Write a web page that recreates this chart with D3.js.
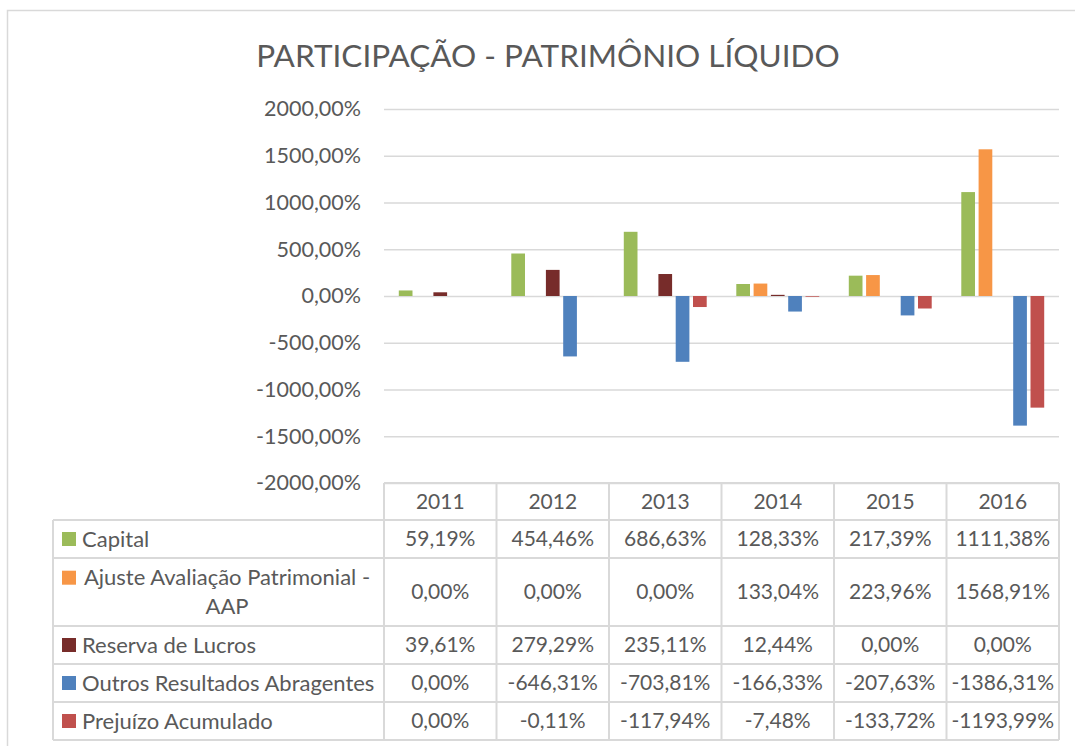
<!DOCTYPE html>
<html>
<head>
<meta charset="utf-8">
<script src="https://cdn.jsdelivr.net/npm/d3@7/dist/d3.min.js"></script>
<style>
  html, body { margin: 0; padding: 0; background: #fff; }
  svg { display: block; font-family: Lato, "Open Sans", sans-serif; }
</style>
</head>
<body>
<svg id="chart" width="1075" height="746"></svg>
<script>
// ---- data ----
const title = "PARTICIPAÇÃO - PATRIMÔNIO LÍQUIDO";
const years = ["2011", "2012", "2013", "2014", "2015", "2016"];
const seriesNames = ["Capital", "Ajuste Avaliação Patrimonial - AAP", "Reserva de Lucros", "Outros Resultados Abragentes", "Prejuízo Acumulado"];
const seriesLabelLines = [["Capital"], ["Ajuste Avaliação Patrimonial -", "AAP"], ["Reserva de Lucros"], ["Outros Resultados Abragentes"], ["Prejuízo Acumulado"]];
const capital  = [59.19, 454.46, 686.63, 128.33, 217.39, 1111.38];
const ajuste   = [0.00, 0.00, 0.00, 133.04, 223.96, 1568.91];
const reserva  = [39.61, 279.29, 235.11, 12.44, 0.00, 0.00];
const outros   = [0.00, -646.31, -703.81, -166.33, -207.63, -1386.31];
const prejuizo = [0.00, -0.11, -117.94, -7.48, -133.72, -1193.99];
const yTicks = [2000, 1500, 1000, 500, 0, -500, -1000, -1500, -2000];
const colors = ["#9BBB59", "#F79646", "#772C2A", "#4F81BD", "#C0504D"];

const seriesValues = [capital, ajuste, reserva, outros, prejuizo];
const series = seriesNames.map((name, i) => ({ name, lines: seriesLabelLines[i], color: colors[i], values: seriesValues[i] }));

// ---- layout ----
const W = 1075, H = 746;
const plotLeft = 384, plotRight = 1059, plotTop = 109, plotBottom = 483;
const tableLeft = 53;
const headerH = 37;
const rowHeights = [38, 68, 38, 38, 38];
const textColor = "#595959";
const gridColor = "#D9D9D9";
const fmt = v => v.toFixed(2).replace(".", ",") + "%";

const svg = d3.select("#chart");

// outer chart border (left/top visible)
svg.append("rect").attr("x", 7.5).attr("y", 10.5).attr("width", W + 20).attr("height", H + 20)
  .attr("fill", "#fff").attr("stroke", gridColor).attr("stroke-width", 1.5);

// title
svg.append("text").attr("x", (258 + 838) / 2).attr("y", 67)
  .attr("text-anchor", "middle").attr("fill", textColor)
  .style("font-size", "31.5px").text(title);

// scales
const x = d3.scaleBand().domain(years).range([plotLeft, plotRight]).paddingInner(0).paddingOuter(0);
const xs = d3.scaleBand().domain(seriesNames).range([0, x.bandwidth()]).paddingInner(0.208).paddingOuter(0.855);
const y = d3.scaleLinear().domain([-2000, 2000]).range([plotBottom, plotTop]);

// gridlines via axis
const yAxis = d3.axisLeft(y).tickValues(yTicks).tickSize(-(plotRight - plotLeft)).tickPadding(23).tickFormat(fmt);
const gy = svg.append("g").attr("transform", `translate(${plotLeft},0)`).call(yAxis);
gy.select(".domain").remove();
gy.selectAll(".tick line").attr("stroke", gridColor).attr("stroke-width", 1.5);
gy.selectAll(".tick text").attr("fill", textColor).style("font-size", "21.5px").style("font-family", "Lato, sans-serif");

// bars
const gBars = svg.append("g");
series.forEach(s => {
  gBars.append("g").selectAll("rect").data(years.map((yr, i) => ({ yr, v: s.values[i] })))
    .join("rect")
    .attr("x", d => x(d.yr) + xs(s.name))
    .attr("width", xs.bandwidth())
    .attr("y", d => y(Math.max(0, d.v)))
    .attr("height", d => Math.abs(y(d.v) - y(0)))
    .attr("fill", s.color);
});

// data table
const rowTops = [];
let acc = plotBottom + headerH;
rowHeights.forEach(h => { rowTops.push(acc); acc += h; });
const tableBottom = acc;
const gT = svg.append("g");
const lineAttr = sel => sel.attr("stroke", gridColor).attr("stroke-width", 2);

// header row
gT.append("line").attr("x1", plotLeft).attr("x2", plotRight).attr("y1", plotBottom).attr("y2", plotBottom).call(lineAttr);
// horizontal row lines
[plotBottom + headerH].concat(rowTops.map((t, i) => t + rowHeights[i])).forEach(yy => {
  gT.append("line").attr("x1", tableLeft).attr("x2", plotRight).attr("y1", yy).attr("y2", yy).call(lineAttr);
});
// vertical lines
gT.append("line").attr("x1", tableLeft).attr("x2", tableLeft).attr("y1", plotBottom + headerH).attr("y2", tableBottom).call(lineAttr);
years.forEach(yr => {
  gT.append("line").attr("x1", x(yr)).attr("x2", x(yr)).attr("y1", plotBottom).attr("y2", tableBottom).call(lineAttr);
});
gT.append("line").attr("x1", plotRight).attr("x2", plotRight).attr("y1", plotBottom).attr("y2", tableBottom).call(lineAttr);

// header text
gT.selectAll("text.yr").data(years).join("text").attr("class", "yr")
  .attr("x", d => x(d) + x.bandwidth() / 2).attr("y", plotBottom + headerH / 2)
  .attr("dy", "0.35em").attr("text-anchor", "middle").attr("fill", textColor)
  .style("font-size", "21px").text(d => d);

// rows
series.forEach((s, i) => {
  const top = rowTops[i], h = rowHeights[i];
  const cy = top + h / 2;
  const nLines = s.lines.length;
  const lh = 28.6;
  const firstY = cy - (nLines - 1) * lh / 2;
  // legend key
  gT.append("rect").attr("x", 62).attr("y", firstY - 7).attr("width", 14).attr("height", 14).attr("fill", s.color);
  if (nLines === 1) {
    gT.append("text").attr("x", 82).attr("y", cy).attr("dy", "0.35em").attr("fill", textColor)
      .style("font-size", "22px").text(s.lines[0]);
  } else {
    s.lines.forEach((ln, k) => {
      gT.append("text").attr("x", 227).attr("y", firstY + k * lh).attr("dy", "0.35em")
        .attr("text-anchor", "middle").attr("fill", textColor).style("font-size", "22px").text(ln);
    });
  }
  // values
  gT.append("g").selectAll("text").data(years.map((yr, j) => ({ yr, v: s.values[j] })))
    .join("text")
    .attr("x", d => x(d.yr) + x.bandwidth() / 2).attr("y", cy).attr("dy", "0.35em")
    .attr("text-anchor", "middle").attr("fill", textColor).style("font-size", "21px")
    .text(d => fmt(d.v));
});
</script>
</body>
</html>
